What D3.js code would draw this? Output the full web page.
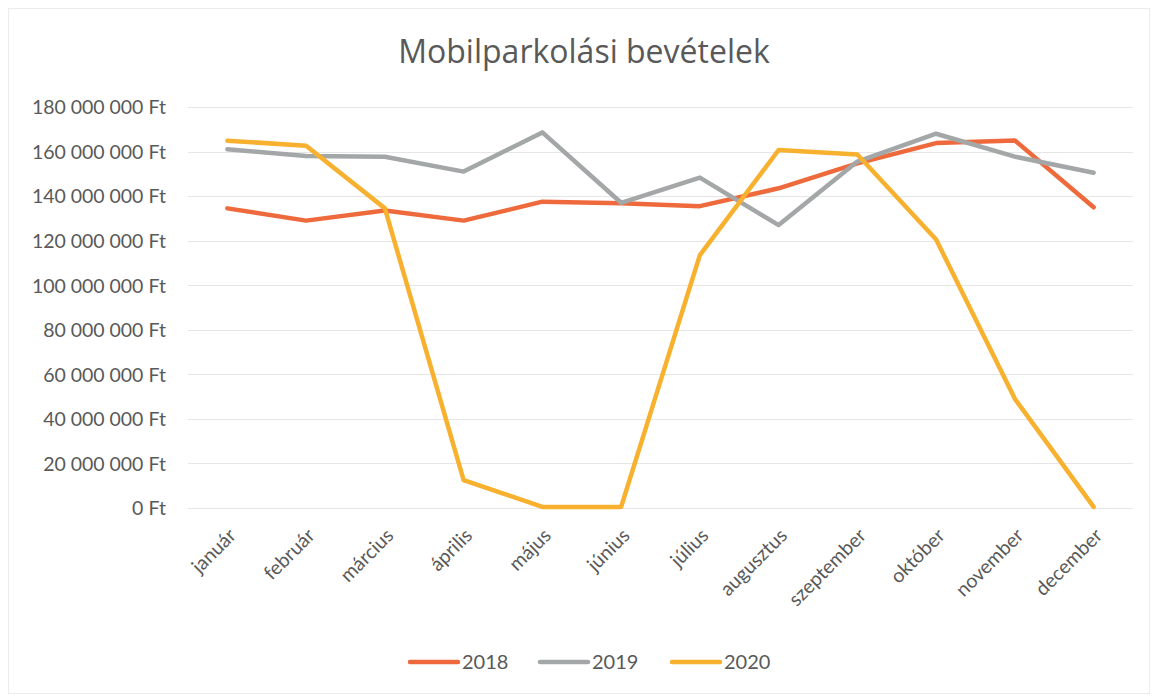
<!DOCTYPE html>
<html><head><meta charset="utf-8">
<script src="https://cdn.jsdelivr.net/npm/d3@7"></script>
<style>
html,body{margin:0;padding:0;background:#fff;}
svg{display:block;}
</style></head>
<body>
<svg id="chart" width="1152" height="696"></svg>
<script>
const months = ["január","február","március","április","május","június","július","augusztus","szeptember","október","november","december"];
const series2018 = [134.5e6,129e6,133.5e6,129e6,137.5e6,136.8e6,135.5e6,143.5e6,154.7e6,163.8e6,165e6,135e6];
const series2019 = [161e6,158e6,157.7e6,151e6,168.6e6,137e6,148.3e6,127e6,155.5e6,168e6,157.7e6,150.5e6];
const series2020 = [164.9e6,162.6e6,134.5e6,12.5e6,0.5e6,0.5e6,113.5e6,160.7e6,158.7e6,120.5e6,49e6,0.5e6];
const seriesNames = ["2018","2019","2020"];
const seriesColors = ["#EE6A3C","#A3A7A7","#F7B12F"];
const yTicks = [0,20e6,40e6,60e6,80e6,100e6,120e6,140e6,160e6,180e6];
const titleText = "Mobilparkolási bevételek";

const svg = d3.select("#chart");
const W = 1152, H = 696;
const m = {left:188, right:1133, top:107, bottom:508};

// chart border
svg.append("rect").attr("x",8.5).attr("y",8.5).attr("width",W-11).attr("height",H-11)
  .attr("fill","#fff").attr("stroke","#ececec").attr("stroke-width",1);

const x = d3.scaleBand().domain(months).range([m.left, m.right]);
const y = d3.scaleLinear().domain([0,180e6]).range([m.bottom, m.top]);

const fmt = v => (v===0 ? "0" : d3.format(",")(v).replace(/,/g, "\u202F")) + " Ft";

// gridlines
svg.append("g").selectAll("line").data(yTicks).join("line")
  .attr("x1", m.left).attr("x2", m.right)
  .attr("y1", d => Math.round(y(d))+0.5).attr("y2", d => Math.round(y(d))+0.5)
  .attr("stroke","#e6e6e6").attr("stroke-width",1);

// y axis labels
const yAxis = d3.axisLeft(y).tickValues(yTicks).tickFormat(fmt).tickSize(0).tickPadding(0);
const gy = svg.append("g").attr("transform", `translate(166,0)`).call(yAxis);
gy.select(".domain").remove();
gy.selectAll("text").attr("font-family","Lato, 'Open Sans', sans-serif").attr("font-size",19.5)
  .attr("fill","#595959").attr("dy","0.35em");

// x axis labels
const xAxis = d3.axisBottom(x).tickSize(0).tickPadding(0);
const gx = svg.append("g").attr("transform", `translate(0,${m.bottom})`).call(xAxis);
gx.select(".domain").remove();
gx.selectAll("text")
  .attr("font-family","Lato, 'Open Sans', sans-serif").attr("font-size",19.5)
  .attr("fill","#595959")
  .attr("text-anchor","end")
  .attr("dy","0.35em")
  .attr("y",0)
  .attr("transform","translate(5,24) rotate(-45)");

// lines
const allSeries = [series2018, series2019, series2020];
const line = d3.line().x((d,i) => x(months[i]) + x.bandwidth()/2).y(d => y(d));
svg.append("g").selectAll("path").data(allSeries).join("path")
  .attr("d", d => line(d))
  .attr("fill","none")
  .attr("stroke",(d,i) => seriesColors[i])
  .attr("stroke-width",4.5)
  .attr("stroke-linejoin","round")
  .attr("stroke-linecap","round");

// title
svg.append("text").attr("x",584).attr("y",63).attr("text-anchor","middle")
  .attr("font-family","'Open Sans', sans-serif").attr("font-size",32)
  .attr("fill","#595959").text(titleText);

// legend
const legendX = [410, 540, 672];
const lg = svg.append("g").selectAll("g").data(seriesNames).join("g")
  .attr("transform",(d,i) => `translate(${legendX[i]},662)`);
lg.append("line").attr("x1",0).attr("x2",48).attr("y1",0).attr("y2",0)
  .attr("stroke",(d,i) => seriesColors[i]).attr("stroke-width",4.5).attr("stroke-linecap","round");
lg.append("text").attr("x",52).attr("y",0).attr("dy","0.35em")
  .attr("font-family","Lato, 'Open Sans', sans-serif").attr("font-size",20)
  .attr("fill","#595959").text(d => d);
</script>
</body></html>
